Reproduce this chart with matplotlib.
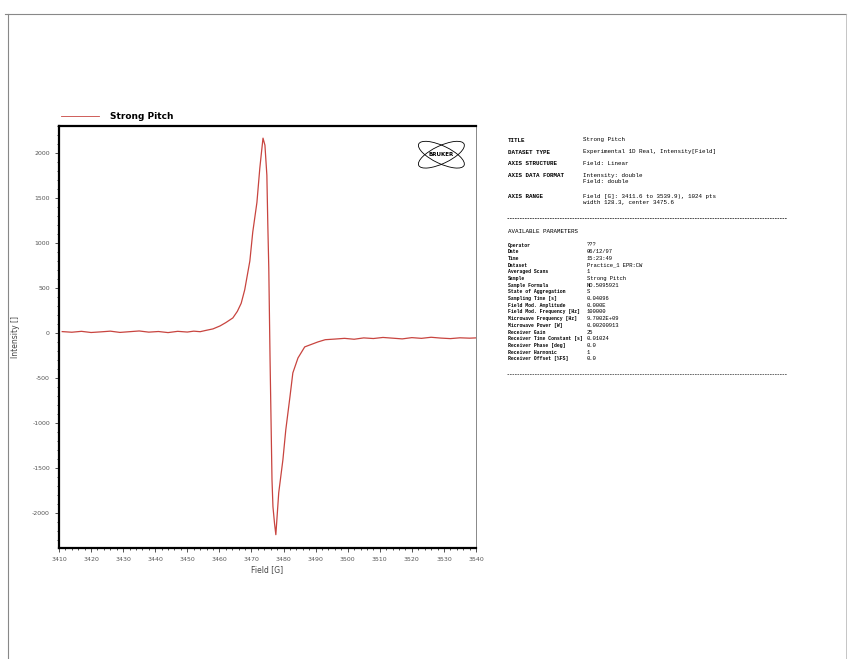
import matplotlib
matplotlib.use("Agg")
import matplotlib.pyplot as plt
from matplotlib.patches import Ellipse
from matplotlib.lines import Line2D
from matplotlib.ticker import MultipleLocator

plt.rcParams["axes.unicode_minus"] = False

# EPR spectrum
field = [3411, 3414, 3417, 3420, 3423, 3426, 3429, 3432, 3435, 3438,
         3441, 3444, 3447, 3450, 3452, 3454, 3456, 3458, 3460.2, 3462.0,
         3464.2, 3465.6, 3466.8, 3467.9, 3469.5, 3470.4, 3471.7, 3472.6,
         3473.1, 3473.6, 3474.2, 3474.8, 3475.1, 3475.4, 3475.8, 3476.4,
         3476.7, 3477.2, 3477.6, 3478.5, 3479.8, 3480.7, 3482.0, 3482.9,
         3484.5, 3486.6, 3490.7, 3493, 3496, 3499, 3502, 3505, 3508, 3511,
         3514, 3517, 3520, 3523, 3526, 3529, 3532, 3535, 3538, 3539.9]
intensity = [15, 8, 18, 5, 12, 20, 6, 14, 22, 9,
             16, 4, 18, 10, 20, 14, 30, 45, 78, 115,
             167, 240, 330, 480, 800, 1120, 1450, 1830,
             2000, 2165, 2087, 1754, 1199, 722, -300, -1632,
             -1931, -2120, -2242, -1776, -1410, -1077, -710, -444,
             -278, -155, -100, -75, -68, -60, -70, -55, -62, -50,
             -58, -66, -52, -60, -48, -57, -63, -54, -58, -55]

series_name = "Strong Pitch"
x_ticks = list(range(3410, 3541, 10))
y_ticks = [-2000, -1500, -1000, -500, 0, 500, 1000, 1500, 2000]

info_names = ["TITLE", "DATASET TYPE", "AXIS STRUCTURE", "AXIS DATA FORMAT", "AXIS RANGE"]
info_values = ["Strong Pitch",
               "Experimental 1D Real, Intensity[Field]",
               "Field: Linear",
               "Intensity: double\nField: double",
               "Field [G]: 3411.6 to 3539.9), 1024 pts\nwidth 128.3, center 3475.6"]
info_y = [140, 152, 164, 176, 197]

param_names = ["Operator", "Date", "Time", "Dataset", "Averaged Scans", "Sample",
               "Sample Formula", "State of Aggregation", "Sampling Time [s]",
               "Field Mod. Amplitude", "Field Mod. Frequency [Hz]",
               "Microwave Frequency [Hz]", "Microwave Power [W]", "Receiver Gain",
               "Receiver Time Constant [s]", "Receiver Phase [deg]",
               "Receiver Harmonic", "Receiver Offset [%FS]"]
param_values = ["???", "06/12/97", "15:23:49", "Practice_1 EPR:CW", "1",
                "Strong Pitch", "NO.5095921", "S", "0.04096", "0.000E",
                "100000", "9.7002E+09", "0.00200913", "25", "0.01024",
                "0.0", "1", "0.0"]

W, H = 849, 659
fig = plt.figure(figsize=(W / 100, H / 100), dpi=100)

def fx(px):
    return px / W

def fy(py):
    return 1 - py / H

# page border of the scan
fig.add_artist(Line2D([fx(5), fx(846)], [fy(14), fy(14)], color="#888888", lw=0.8))
fig.add_artist(Line2D([fx(8), fx(8)], [fy(14), fy(659)], color="#888888", lw=0.8))
fig.add_artist(Line2D([fx(846), fx(846)], [fy(14), fy(659)], color="#bbbbbb", lw=0.6))

ax = fig.add_axes([fx(59), fy(548), fx(476) - fx(59), fy(126) - fy(548)])
ax.plot(field, intensity, color="#c8443f", lw=0.9, label=series_name)
ax.set_xlim(3410, 3540)
ax.set_ylim(-2390, 2300)
ax.set_xticks(x_ticks)
ax.set_yticks(y_ticks)
ax.xaxis.set_minor_locator(MultipleLocator(2))
ax.yaxis.set_minor_locator(MultipleLocator(100))
ax.tick_params(which="both", direction="out", labelsize=4.5, labelcolor="#555555",
               color="#333333", width=0.6)
ax.tick_params(which="major", length=3)
ax.tick_params(which="minor", length=1.5)
for s in ["left", "bottom", "top"]:
    ax.spines[s].set_linewidth(1.6)
    ax.spines[s].set_color("black")
ax.spines["right"].set_linewidth(0.7)
ax.spines["right"].set_color("#888888")
ax.set_xlabel("Field [G]", fontsize=5.5, color="#444444", labelpad=2)
ax.set_ylabel("Intensity []", fontsize=5.5, color="#444444")
ax.yaxis.set_label_coords(-0.093, 0.5)

leg = ax.legend(loc="lower left", bbox_to_anchor=(-0.005, 1.0), frameon=False,
                handlelength=4.2, handletextpad=1.2, borderaxespad=0.1,
                prop={"size": 6.5, "weight": "bold"})
leg.get_lines()[0].set_linewidth(0.6)

# Bruker logo
ax.text(0.917, 0.932, "BRUKER", transform=ax.transAxes, fontsize=4.0,
        fontweight="bold", ha="center", va="center")
for ang in (25, -25):
    ax.add_patch(Ellipse((0.917, 0.932), 0.12, 0.042, angle=ang,
                         transform=ax.transAxes, fill=False, lw=0.6, color="black"))

# parameter printout
mono = "Liberation Mono"
for name, val, y in zip(info_names, info_values, info_y):
    fig.text(fx(508), fy(y), name, fontsize=4.2, family=mono, fontweight="bold", va="center")
    fig.text(fx(583), fy(y - 3), val, fontsize=4.2, family=mono, va="top", linespacing=1.2)
fig.add_artist(Line2D([fx(507), fx(787)], [fy(218), fy(218)], color="#333333",
                      lw=0.6, ls=(0, (2, 1))))
fig.text(fx(508), fy(231), "AVAILABLE PARAMETERS", fontsize=4.2, family=mono, va="center")
y = 245
for name, val in zip(param_names, param_values):
    fig.text(fx(508), fy(y), name, fontsize=3.4, family=mono, fontweight="bold", va="center")
    fig.text(fx(587), fy(y), val, fontsize=4.0, family=mono, va="center")
    y += 6.7
fig.add_artist(Line2D([fx(507), fx(787)], [fy(374), fy(374)], color="#555555",
                      lw=0.6, ls=(0, (2, 1))))

fig.savefig("out.png", dpi=100)
